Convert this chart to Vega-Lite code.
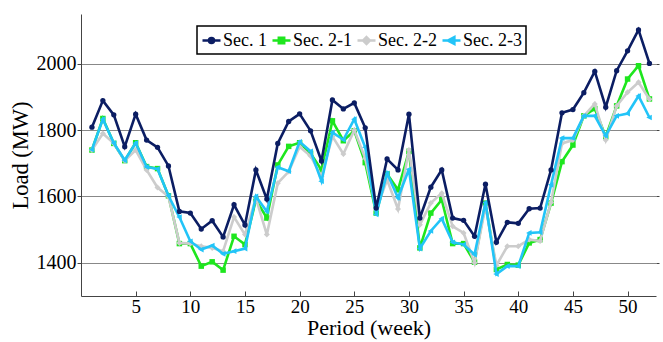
{
  "$schema": "https://vega.github.io/schema/vega-lite/v6.json",
  "autosize": "none",
  "width": 575,
  "height": 282,
  "padding": {"left": 81, "top": 14, "right": 7, "bottom": 46},
  "data": {"values": [
    {"week":1,"series":"Sec. 1","load":1809},{"week":2,"series":"Sec. 1","load":1889},{"week":3,"series":"Sec. 1","load":1846},{"week":4,"series":"Sec. 1","load":1750},{"week":5,"series":"Sec. 1","load":1848},{"week":6,"series":"Sec. 1","load":1770},{"week":7,"series":"Sec. 1","load":1748},{"week":8,"series":"Sec. 1","load":1692},{"week":9,"series":"Sec. 1","load":1555},{"week":10,"series":"Sec. 1","load":1550},{"week":11,"series":"Sec. 1","load":1502},{"week":12,"series":"Sec. 1","load":1527},{"week":13,"series":"Sec. 1","load":1478},{"week":14,"series":"Sec. 1","load":1575},{"week":15,"series":"Sec. 1","load":1514},{"week":16,"series":"Sec. 1","load":1680},{"week":17,"series":"Sec. 1","load":1592},{"week":18,"series":"Sec. 1","load":1760},{"week":19,"series":"Sec. 1","load":1826},{"week":20,"series":"Sec. 1","load":1849},{"week":21,"series":"Sec. 1","load":1798},{"week":22,"series":"Sec. 1","load":1707},{"week":23,"series":"Sec. 1","load":1891},{"week":24,"series":"Sec. 1","load":1864},{"week":25,"series":"Sec. 1","load":1882},{"week":26,"series":"Sec. 1","load":1807},{"week":27,"series":"Sec. 1","load":1565},{"week":28,"series":"Sec. 1","load":1713},{"week":29,"series":"Sec. 1","load":1680},{"week":30,"series":"Sec. 1","load":1848},{"week":31,"series":"Sec. 1","load":1535},{"week":32,"series":"Sec. 1","load":1628},{"week":33,"series":"Sec. 1","load":1680},{"week":34,"series":"Sec. 1","load":1535},{"week":35,"series":"Sec. 1","load":1528},{"week":36,"series":"Sec. 1","load":1480},{"week":37,"series":"Sec. 1","load":1637},{"week":38,"series":"Sec. 1","load":1462},{"week":39,"series":"Sec. 1","load":1522},{"week":40,"series":"Sec. 1","load":1519},{"week":41,"series":"Sec. 1","load":1563},{"week":42,"series":"Sec. 1","load":1565},{"week":43,"series":"Sec. 1","load":1680},{"week":44,"series":"Sec. 1","load":1852},{"week":45,"series":"Sec. 1","load":1862},{"week":46,"series":"Sec. 1","load":1913},{"week":47,"series":"Sec. 1","load":1977},{"week":48,"series":"Sec. 1","load":1869},{"week":49,"series":"Sec. 1","load":1979},{"week":50,"series":"Sec. 1","load":2039},{"week":51,"series":"Sec. 1","load":2102},{"week":52,"series":"Sec. 1","load":2001},
    {"week":1,"series":"Sec. 2-1","load":1740},{"week":2,"series":"Sec. 2-1","load":1835},{"week":3,"series":"Sec. 2-1","load":1760},{"week":4,"series":"Sec. 2-1","load":1708},{"week":5,"series":"Sec. 2-1","load":1762},{"week":6,"series":"Sec. 2-1","load":1690},{"week":7,"series":"Sec. 2-1","load":1684},{"week":8,"series":"Sec. 2-1","load":1602},{"week":9,"series":"Sec. 2-1","load":1458},{"week":10,"series":"Sec. 2-1","load":1458},{"week":11,"series":"Sec. 2-1","load":1390},{"week":12,"series":"Sec. 2-1","load":1403},{"week":13,"series":"Sec. 2-1","load":1378},{"week":14,"series":"Sec. 2-1","load":1480},{"week":15,"series":"Sec. 2-1","load":1455},{"week":16,"series":"Sec. 2-1","load":1590},{"week":17,"series":"Sec. 2-1","load":1535},{"week":18,"series":"Sec. 2-1","load":1695},{"week":19,"series":"Sec. 2-1","load":1751},{"week":20,"series":"Sec. 2-1","load":1762},{"week":21,"series":"Sec. 2-1","load":1730},{"week":22,"series":"Sec. 2-1","load":1680},{"week":23,"series":"Sec. 2-1","load":1828},{"week":24,"series":"Sec. 2-1","load":1768},{"week":25,"series":"Sec. 2-1","load":1798},{"week":26,"series":"Sec. 2-1","load":1702},{"week":27,"series":"Sec. 2-1","load":1550},{"week":28,"series":"Sec. 2-1","load":1668},{"week":29,"series":"Sec. 2-1","load":1620},{"week":30,"series":"Sec. 2-1","load":1736},{"week":31,"series":"Sec. 2-1","load":1445},{"week":32,"series":"Sec. 2-1","load":1550},{"week":33,"series":"Sec. 2-1","load":1590},{"week":34,"series":"Sec. 2-1","load":1458},{"week":35,"series":"Sec. 2-1","load":1458},{"week":36,"series":"Sec. 2-1","load":1402},{"week":37,"series":"Sec. 2-1","load":1580},{"week":38,"series":"Sec. 2-1","load":1380},{"week":39,"series":"Sec. 2-1","load":1395},{"week":40,"series":"Sec. 2-1","load":1393},{"week":41,"series":"Sec. 2-1","load":1460},{"week":42,"series":"Sec. 2-1","load":1470},{"week":43,"series":"Sec. 2-1","load":1580},{"week":44,"series":"Sec. 2-1","load":1705},{"week":45,"series":"Sec. 2-1","load":1755},{"week":46,"series":"Sec. 2-1","load":1843},{"week":47,"series":"Sec. 2-1","load":1865},{"week":48,"series":"Sec. 2-1","load":1780},{"week":49,"series":"Sec. 2-1","load":1873},{"week":50,"series":"Sec. 2-1","load":1954},{"week":51,"series":"Sec. 2-1","load":1994},{"week":52,"series":"Sec. 2-1","load":1894},
    {"week":1,"series":"Sec. 2-2","load":1740},{"week":2,"series":"Sec. 2-2","load":1790},{"week":3,"series":"Sec. 2-2","load":1760},{"week":4,"series":"Sec. 2-2","load":1708},{"week":5,"series":"Sec. 2-2","load":1740},{"week":6,"series":"Sec. 2-2","load":1680},{"week":7,"series":"Sec. 2-2","load":1627},{"week":8,"series":"Sec. 2-2","load":1600},{"week":9,"series":"Sec. 2-2","load":1460},{"week":10,"series":"Sec. 2-2","load":1458},{"week":11,"series":"Sec. 2-2","load":1450},{"week":12,"series":"Sec. 2-2","load":1445},{"week":13,"series":"Sec. 2-2","load":1435},{"week":14,"series":"Sec. 2-2","load":1538},{"week":15,"series":"Sec. 2-2","load":1485},{"week":16,"series":"Sec. 2-2","load":1595},{"week":17,"series":"Sec. 2-2","load":1485},{"week":18,"series":"Sec. 2-2","load":1640},{"week":19,"series":"Sec. 2-2","load":1675},{"week":20,"series":"Sec. 2-2","load":1750},{"week":21,"series":"Sec. 2-2","load":1722},{"week":22,"series":"Sec. 2-2","load":1660},{"week":23,"series":"Sec. 2-2","load":1781},{"week":24,"series":"Sec. 2-2","load":1728},{"week":25,"series":"Sec. 2-2","load":1800},{"week":26,"series":"Sec. 2-2","load":1715},{"week":27,"series":"Sec. 2-2","load":1560},{"week":28,"series":"Sec. 2-2","load":1650},{"week":29,"series":"Sec. 2-2","load":1562},{"week":30,"series":"Sec. 2-2","load":1740},{"week":31,"series":"Sec. 2-2","load":1515},{"week":32,"series":"Sec. 2-2","load":1580},{"week":33,"series":"Sec. 2-2","load":1610},{"week":34,"series":"Sec. 2-2","load":1510},{"week":35,"series":"Sec. 2-2","load":1490},{"week":36,"series":"Sec. 2-2","load":1400},{"week":37,"series":"Sec. 2-2","load":1570},{"week":38,"series":"Sec. 2-2","load":1392},{"week":39,"series":"Sec. 2-2","load":1450},{"week":40,"series":"Sec. 2-2","load":1450},{"week":41,"series":"Sec. 2-2","load":1470},{"week":42,"series":"Sec. 2-2","load":1466},{"week":43,"series":"Sec. 2-2","load":1582},{"week":44,"series":"Sec. 2-2","load":1760},{"week":45,"series":"Sec. 2-2","load":1770},{"week":46,"series":"Sec. 2-2","load":1843},{"week":47,"series":"Sec. 2-2","load":1879},{"week":48,"series":"Sec. 2-2","load":1770},{"week":49,"series":"Sec. 2-2","load":1873},{"week":50,"series":"Sec. 2-2","load":1914},{"week":51,"series":"Sec. 2-2","load":1944},{"week":52,"series":"Sec. 2-2","load":1893},
    {"week":1,"series":"Sec. 2-3","load":1741},{"week":2,"series":"Sec. 2-3","load":1833},{"week":3,"series":"Sec. 2-3","load":1761},{"week":4,"series":"Sec. 2-3","load":1709},{"week":5,"series":"Sec. 2-3","load":1761},{"week":6,"series":"Sec. 2-3","load":1689},{"week":7,"series":"Sec. 2-3","load":1683},{"week":8,"series":"Sec. 2-3","load":1602},{"week":9,"series":"Sec. 2-3","load":1538},{"week":10,"series":"Sec. 2-3","load":1465},{"week":11,"series":"Sec. 2-3","load":1440},{"week":12,"series":"Sec. 2-3","load":1452},{"week":13,"series":"Sec. 2-3","load":1427},{"week":14,"series":"Sec. 2-3","load":1435},{"week":15,"series":"Sec. 2-3","load":1443},{"week":16,"series":"Sec. 2-3","load":1600},{"week":17,"series":"Sec. 2-3","load":1555},{"week":18,"series":"Sec. 2-3","load":1688},{"week":19,"series":"Sec. 2-3","load":1676},{"week":20,"series":"Sec. 2-3","load":1765},{"week":21,"series":"Sec. 2-3","load":1736},{"week":22,"series":"Sec. 2-3","load":1646},{"week":23,"series":"Sec. 2-3","load":1793},{"week":24,"series":"Sec. 2-3","load":1771},{"week":25,"series":"Sec. 2-3","load":1833},{"week":26,"series":"Sec. 2-3","load":1748},{"week":27,"series":"Sec. 2-3","load":1546},{"week":28,"series":"Sec. 2-3","load":1670},{"week":29,"series":"Sec. 2-3","load":1596},{"week":30,"series":"Sec. 2-3","load":1682},{"week":31,"series":"Sec. 2-3","load":1443},{"week":32,"series":"Sec. 2-3","load":1496},{"week":33,"series":"Sec. 2-3","load":1533},{"week":34,"series":"Sec. 2-3","load":1462},{"week":35,"series":"Sec. 2-3","load":1455},{"week":36,"series":"Sec. 2-3","load":1425},{"week":37,"series":"Sec. 2-3","load":1582},{"week":38,"series":"Sec. 2-3","load":1366},{"week":39,"series":"Sec. 2-3","load":1390},{"week":40,"series":"Sec. 2-3","load":1390},{"week":41,"series":"Sec. 2-3","load":1490},{"week":42,"series":"Sec. 2-3","load":1492},{"week":43,"series":"Sec. 2-3","load":1635},{"week":44,"series":"Sec. 2-3","load":1776},{"week":45,"series":"Sec. 2-3","load":1776},{"week":46,"series":"Sec. 2-3","load":1843},{"week":47,"series":"Sec. 2-3","load":1843},{"week":48,"series":"Sec. 2-3","load":1783},{"week":49,"series":"Sec. 2-3","load":1843},{"week":50,"series":"Sec. 2-3","load":1850},{"week":51,"series":"Sec. 2-3","load":1903},{"week":52,"series":"Sec. 2-3","load":1838}
  ]},
  "encoding": {
    "x": {"field": "week", "type": "quantitative",
      "scale": {"domain": [0, 52.6], "nice": false, "zero": false},
      "axis": {"title": "Period (week)", "values": [5,10,15,20,25,30,35,40,45,50], "grid": false,
        "labelFont": "Liberation Serif", "titleFont": "Liberation Serif", "labelFontWeight": "normal", "titleFontWeight": "normal",
        "tickSize": -5, "labelPadding": 6, "labelFontSize": 19, "titleFontSize": 22, "titlePadding": 1}},
    "y": {"field": "load", "type": "quantitative",
      "scale": {"domain": [1300, 2150], "nice": false, "zero": false}},
    "color": {"field": "series", "type": "nominal",
      "scale": {"domain": ["Sec. 1", "Sec. 2-1", "Sec. 2-2", "Sec. 2-3"], "range": ["#0b1d63", "#1ee61e", "#cccccc", "#22c4f8"]},
      "legend": {
        "title": null, "orient": "none", "legendX": 116, "legendY": 12, "direction": "horizontal", "gridAlign": "none",
        "labelFont": "Liberation Serif", "labelFontWeight": "normal", "labelFontSize": 18, "labelColor": "black", "labelOffset": 1,
        "symbolSize": 324, "columnPadding": 0, "padding": 4,
        "strokeColor": "black", "fillColor": "white",
        "encode": {
          "legend": {"update": {"strokeWidth": {"value": 1.5}}},
          "symbols": {"update": {
            "shape": {"signal": "datum.value === 'Sec. 1' ? 'M-1,0L1,0M-0.28,0A0.28,0.28 0 1,0 0.28,0A0.28,0.28 0 1,0 -0.28,0Z' : datum.value === 'Sec. 2-1' ? 'M-1,0L1,0M-0.3,-0.3H0.3V0.3H-0.3Z' : datum.value === 'Sec. 2-2' ? 'M-1,0L1,0M0,-0.38L0.38,0L0,0.38L-0.38,0Z' : 'M-1,0L1,0M-0.42,0L0.32,-0.38L0.32,0.38Z'"},
            "fill": {"scale": "color", "field": "value"},
            "stroke": {"scale": "color", "field": "value"},
            "strokeWidth": {"value": 2.5},
            "opacity": {"value": 1}
          }}
        }
      }}
  },
  "layer": [
    {"transform": [{"filter": "datum.series === 'Sec. 2-1'"}],
     "mark": {"type": "line", "strokeWidth": 2.6, "point": {"shape": "square", "size": 30, "filled": true, "opacity": 1}},
     "encoding": {"y": {"field": "load", "type": "quantitative",
        "axis": {"title": "Load (MW)", "values": [1400,1600,1800,2000], "format": "d", "grid": true, "gridColor": "#888", "gridWidth": 1,
          "labelFont": "Liberation Serif", "titleFont": "Liberation Serif",
          "tickSize": 4, "labelPadding": 1, "labelFontSize": 20, "titleFontSize": 22.5, "titlePadding": 4}}}},
    {"transform": [{"filter": "datum.series === 'Sec. 2-2'"}],
     "mark": {"type": "line", "strokeWidth": 2.6, "point": {"shape": "diamond", "size": 36, "filled": true, "opacity": 1}},
     "encoding": {"y": {"field": "load", "type": "quantitative", "axis": null}}},
    {"transform": [{"filter": "datum.series === 'Sec. 2-3'"}],
     "mark": {"type": "line", "strokeWidth": 2.6, "point": {"shape": "M-1,0L0.75,-0.9L0.75,0.9Z", "size": 40, "filled": true, "opacity": 1}},
     "encoding": {"y": {"field": "load", "type": "quantitative", "axis": null}}},
    {"transform": [{"filter": "datum.series === 'Sec. 1'"}],
     "mark": {"type": "line", "strokeWidth": 2.6, "point": {"shape": "circle", "size": 28, "filled": true, "opacity": 1}},
     "encoding": {"y": {"field": "load", "type": "quantitative",
        "axis": {"orient": "right", "title": null, "labels": false, "domain": false, "grid": false, "values": [1400,1600,1800,2000], "tickSize": 3}}}}
  ],
  "resolve": {"axis": {"y": "independent"}},
  "config": {
    "font": "Liberation Serif",
    "view": {"stroke": null},
    "legend": {"labelFont": "Liberation Serif"},
    "axis": {"labelFont": "Liberation Serif", "titleFont": "Liberation Serif", "labelColor": "black", "titleColor": "black",
      "titleFontWeight": "normal", "domainColor": "#444", "tickColor": "#444", "domainWidth": 1, "tickWidth": 1}
  }
}
